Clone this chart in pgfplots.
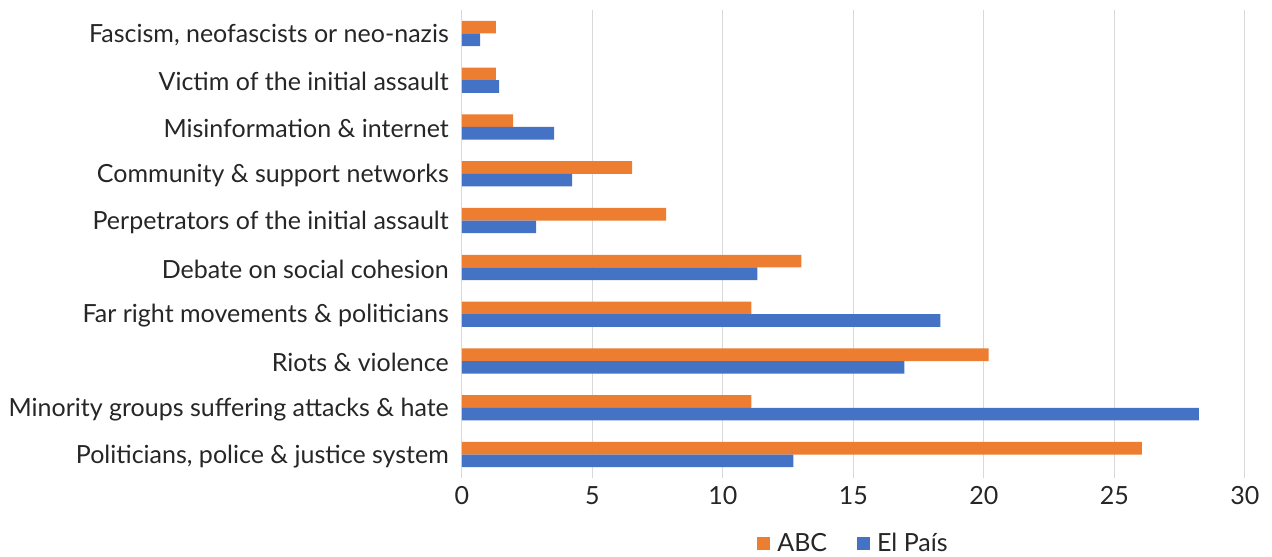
\documentclass[border=0pt]{standalone}
\usepackage{fontspec}
\setmainfont{Lato}
\usepackage{pgfplots}
\pgfplotsset{compat=1.18}

\definecolor{abc}{HTML}{ED7D31}
\definecolor{elpais}{HTML}{4472C4}
\definecolor{gridgrey}{HTML}{D9D9D9}
\definecolor{txt}{HTML}{262626}

\begin{document}
\fontsize{25}{30}\selectfont
\begin{tikzpicture}
\useasboundingbox (-462pt,-79pt) rectangle (810pt,478pt);
\begin{axis}[
    scale only axis,
    width=783pt, height=468pt,
    xbar,
    bar width=0.27,
    xmin=0, xmax=30,
    ymin=-0.5, ymax=9.5,
    xtick={0,5,...,30},
    ytick={0,...,9},
    yticklabels={
        {Politicians, police \& justice system},
        Minority groups suffering attacks \& hate,
        Riots \& violence,
        Far right movements \& politicians,
        Debate on social cohesion,
        Perpetrators of the initial assault,
        Community \& support networks,
        Misinformation \& internet,
        Victim of the initial assault,
        {Fascism, neofascists or neo-nazis}
    },
    axis lines*=left,
    x axis line style={draw=none},
    y axis line style={draw=gridgrey, line width=1pt},
    xmajorgrids,
    major grid style={draw=gridgrey, line width=1pt},
    major tick length=0pt,
    tick style={draw=none},
    /pgf/number format/assume math mode=true,
    tick label style={font=\fontsize{25}{30}\selectfont, text=txt},
    y tick label style={inner sep=0pt, xshift=-13pt, yshift=-1.5pt},
    x tick label style={inner sep=0pt, yshift=-8pt},
    legend style={draw=none, at={(0.5,-0.141)}, anchor=center,
        font=\fontsize{25}{30}\selectfont, text=txt,
        legend columns=-1,
        /tikz/every odd column/.append style={column sep=5pt},
        /tikz/every even column/.append style={column sep=28pt}},
    legend image code/.code={\fill[#1] (0pt,-6.5pt) rectangle (13pt,6.5pt);},
]
\addplot[draw=none, fill=abc, bar shift=0.135] coordinates {
    (26.05,0) (11.09,1) (20.18,2) (11.09,3) (13.00,4)
    (7.82,5) (6.52,6) (1.96,7) (1.30,8) (1.30,9)
};
\addlegendentry{ABC}
\addplot[draw=none, fill=elpais, bar shift=-0.135] coordinates {
    (12.70,0) (28.23,1) (16.95,2) (18.33,3) (11.32,4)
    (2.84,5) (4.22,6) (3.53,7) (1.42,8) (0.69,9)
};
\addlegendentry{El País}
\end{axis}
\end{tikzpicture}
\end{document}
